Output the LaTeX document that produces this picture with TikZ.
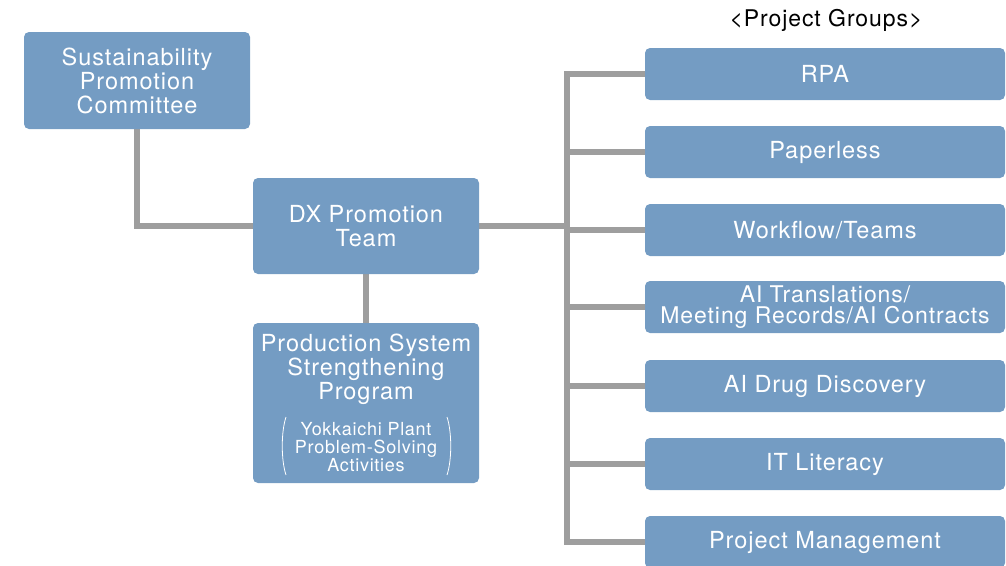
\documentclass[tikz,border=0pt]{standalone}
\usepackage{fontspec}
\setmainfont{TeX Gyre Heros}[LetterSpace=4]
\usetikzlibrary{backgrounds,calc}
\definecolor{boxblue}{RGB}{116,156,195}
\definecolor{linegray}{RGB}{158,158,158}
\tikzset{
  box/.style={fill=boxblue, rounded corners=5pt, inner sep=0pt, text=white, align=center,
    font=\fontsize{23.5}{24}\selectfont},
  bigbox/.style={box, minimum width=226pt},
  grpbox/.style={box, minimum width=360pt, minimum height=52pt},
  conn/.style={draw=linegray, line width=6pt},
  subtxt/.style={text=white, align=center, inner sep=0pt, font=\fontsize{18}{18}\selectfont},
  paren/.style={draw=white, line width=0.8pt}
}
\begin{document}
\begin{tikzpicture}[x=1pt,y=-1pt]
\useasboundingbox (0,0) rectangle (1006,565);
\node[font=\fontsize{23}{24}\selectfont] (title) at (826,20) {<Project Groups>};
\node[bigbox, minimum height=97pt] (sus) at (137,80.5) {Sustainability\\Promotion\\Committee};
\node[bigbox, minimum height=96pt] (dx) at (366,226) {DX Promotion\\Team};
\node[bigbox, minimum height=160pt] (prod) at (366,403) {};
\node[text=white, align=center, inner sep=0pt, font=\fontsize{23.5}{24}\selectfont] (prodtitle) at (366,369) {Production System\\Strengthening\\Program};
\node[subtxt] (prodsub) at (366,447) {Yokkaichi Plant\\Problem-Solving\\Activities};
\draw[paren] ($(prod.center)+(-80,14)$) coordinate (pl1) .. controls +(-5,15) and +(-5,-15) .. ($(prod.center)+(-80,72)$) coordinate (pl2);
\draw[paren] ($(prod.center)+(81,14)$) coordinate (pr1) .. controls +(5,15) and +(5,-15) .. ($(prod.center)+(81,72)$) coordinate (pr2);
\node[grpbox] (rpa) at (825,74) {RPA};
\node[grpbox] (paper) at (825,152) {Paperless};
\node[grpbox] (work) at (825,230) {Workflow/Teams};
\node[grpbox, font=\fontsize{23}{21}\selectfont] (aitr) at (825,307) {AI Translations/\\Meeting Records/AI Contracts};
\node[grpbox] (drug) at (825,386) {AI Drug Discovery};
\node[grpbox] (it) at (825,464) {IT Literacy};
\node[grpbox] (pm) at (825,542) {Project Management};
\coordinate (trunk) at (567,0);
\begin{pgfonlayer}{background}
\draw[conn] (rpa.west) -- (rpa.west -| trunk) -- (pm.west -| trunk) -- (pm.west);
\foreach \n in {paper,work,aitr,drug,it}{
  \draw[conn] (\n.west) -- (\n.west -| trunk);
}
\draw[conn] (dx.east) -- (dx.east -| trunk);
\draw[conn] (sus.south) |- (dx.west);
\draw[conn] (dx.south) -- (prod.north);
\end{pgfonlayer}
\end{tikzpicture}
\end{document}
